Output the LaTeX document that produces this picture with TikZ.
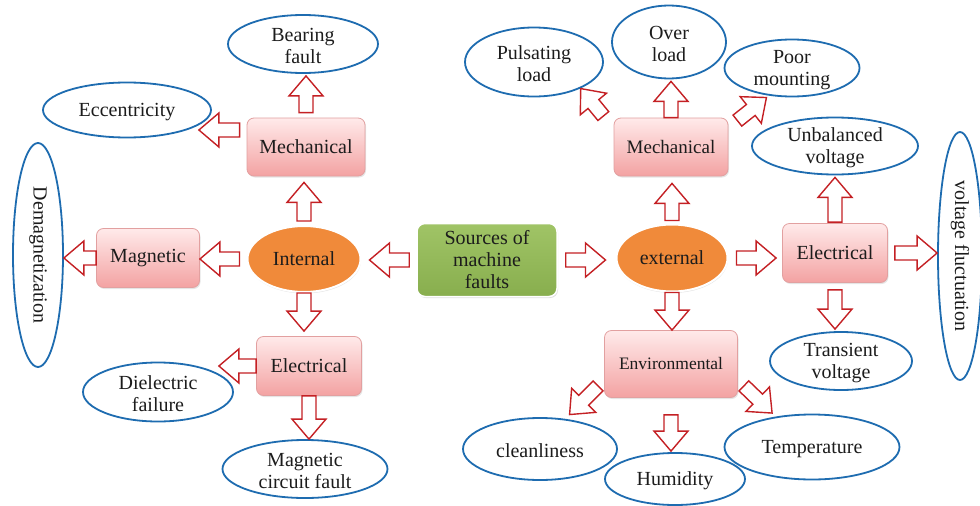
\documentclass[tikz,border=0pt]{standalone}
\usepackage{fontspec}
\setmainfont{Liberation Serif}
\usetikzlibrary{shapes.geometric,calc,shadows}

\definecolor{arrowred}{RGB}{196,32,36}
\definecolor{leafblue}{RGB}{30,108,176}
\definecolor{boxtop}{RGB}{255,234,234}
\definecolor{boxbot}{RGB}{243,162,162}
\definecolor{boxline}{RGB}{226,160,160}
\definecolor{hubfill}{RGB}{240,138,58}
\definecolor{roottop}{RGB}{160,196,102}
\definecolor{rootbot}{RGB}{136,174,78}
\definecolor{ink}{RGB}{28,28,28}

\tikzset{
  base/.style={font=\fontsize{20}{22}\selectfont, text=ink, align=center},
  catbox/.style={base, rectangle, rounded corners=7pt, top color=boxtop,
    bottom color=boxbot, draw=boxline, line width=0.8pt, inner sep=2pt,
    drop shadow={opacity=0.2, shadow xshift=1pt, shadow yshift=-1.5pt}},
  hub/.style={base, ellipse, fill=hubfill, draw=white, line width=2pt, inner sep=0pt,
    drop shadow={opacity=0.2, shadow xshift=0.5pt, shadow yshift=-1.5pt}},
  root/.style={base, rectangle, rounded corners=8pt, top color=roottop,
    bottom color=rootbot, draw=white, line width=1.5pt, inner sep=2pt,
    drop shadow={opacity=0.25, shadow xshift=1pt, shadow yshift=-1.5pt}},
  leaf/.style={ellipse, draw=leafblue, line width=1.8pt, fill=white, inner sep=0pt},
  leaftext/.style={base, yshift=-2pt},
  % hollow block arrow: shaft 14pt wide, head 34pt wide and 20pt long;
  % the two arguments are the gaps left at the start and at the target
  barrow/.style 2 args={draw=arrowred, fill=white, line width=1.4pt, line join=miter,
    to path={
    let \p1=(\tikztostart), \p2=(\tikztotarget),
        \n1={atan2(\y2-\y1,\x2-\x1)},
        \n2={veclen(\x2-\x1,\y2-\y1)-(#1)-(#2)} in
    {[shift={($(\p1)!#1pt!(\p2)$)}, rotate=\n1]
      (0pt,-7pt) -- ({(\n2-20)*1pt},-7pt) -- ({(\n2-20)*1pt},-17pt)
      -- ({\n2*1pt},0pt) -- ({(\n2-20)*1pt},17pt) -- ({(\n2-20)*1pt},7pt)
      -- (0pt,7pt) -- cycle}}}
}

% ellipse outline with its caption set on top
\newcommand\leafnode[6]{%
  \node[leaf, minimum width=#4, minimum height=#5] (#1) at (#2,#3) {};
  \node[leaftext] (#1-t) at (#1) {#6};}

\begin{document}
\begin{tikzpicture}[x=1pt,y=-1pt]
\useasboundingbox (0,0) rectangle (980,506);
\fill[white] (0,0) rectangle (980,506);

% root and the two branches
\node[root, minimum width=140, minimum height=73] (src) at (487,260) {Sources of\\machine\\faults};
\node[hub, minimum width=113, minimum height=66] (intl) at (304,259) {Internal};
\node[hub, minimum width=111, minimum height=67] (ext) at (672,258) {external};

% categories
\node[catbox, minimum width=118, minimum height=58] (imech) at (306,147) {Mechanical};
\node[catbox, minimum width=103, minimum height=59] (imag) at (148,258) {Magnetic};
\node[catbox, minimum width=105, minimum height=59] (ielec) at (309,366) {Electrical};
\node[catbox, minimum width=114, minimum height=58, font=\fontsize{19}{21}\selectfont] (xmech) at (671,147) {Mechanical};
\node[catbox, minimum width=105, minimum height=59] (xelec) at (835,253) {Electrical};
\node[catbox, minimum width=133, minimum height=67, font=\fontsize{17.5}{20}\selectfont] (env) at (671,364) {Environmental};

% fault types
\leafnode{bear}{303}{44}{150}{58}{Bearing\\fault}
\leafnode{ecc}{127}{110}{168}{55}{Eccentricity}
\leafnode{diel}{158}{392}{150}{59}{Dielectric\\failure}
\leafnode{mcf}{305}{469}{165}{58}{Magnetic\\circuit fault}
\leafnode{puls}{534}{62}{138}{69}{Pulsating\\load}
\leafnode{over}{669}{42}{114}{73}{Over\\load}
\leafnode{poor}{792}{68}{135}{57}{Poor\\mounting}
\leafnode{unb}{835}{146}{166}{57}{Unbalanced\\voltage}
\leafnode{trans}{841}{361}{142}{58}{Transient\\voltage}
\leafnode{clean}{540}{449}{154}{62}{cleanliness}
\leafnode{hum}{675}{479}{140}{52}{Humidity}
\leafnode{temp}{812}{447}{175}{65}{Temperature}
\node[leaf, minimum width=50, minimum height=224] (demag) at (38,255) {};
\node[base, rotate=-90] (demag-t) at (demag) {Demagnetization};
\node[leaf, minimum width=44, minimum height=248] (vfl) at (960,256) {};
\node[base, rotate=-90] (vfl-t) at (vfl) {voltage fluctuation};

% block arrows, internal side
\path[barrow={7}{8}] (src.west) to (src.west -| intl.east);
\path[barrow={4}{6}] (intl.north) to (intl.north |- imech.south);
\path[barrow={5}{2}] (imech.north) to (imech.north |- bear.south);
\path[barrow={7}{-13}] ([yshift=17pt]imech.west) to ([yshift=17pt]imech.west -| ecc.east);
\path[barrow={7}{0}] (intl.west) to (intl.west -| imag.east);
\path[barrow={0}{0}] (imag.west) to (imag.west -| demag.east);
\path[barrow={0}{5}] (intl.south) to (intl.south |- ielec.north);
\path[barrow={0}{-15}] (ielec.west) to (ielec.west -| diel.east);
\path[barrow={0}{0}] (ielec.south) to (ielec.south |- mcf.north);

% block arrows, external side
\path[barrow={8}{10}] (src.east) to (src.east -| ext.west);
\path[barrow={3}{7}] (ext.north) to (ext.north |- xmech.south);
\path[barrow={0}{2}] (xmech.north) to (xmech.north |- over.south);
\path[barrow={2}{2}] ([xshift=-9pt]xmech.north west) to ([xshift=-4pt]puls.south east);
\path[barrow={0}{3}] ([xshift=9pt,yshift=-3pt]xmech.north east) to (poor.230);
\path[barrow={8}{6}] (ext.east) to (ext.east -| xelec.west);
\path[barrow={1}{2}] (xelec.north) to (xelec.north |- unb.south);
\path[barrow={7}{0}] (xelec.east) to (xelec.east -| vfl.west);
\path[barrow={7}{2}] (xelec.south) to (xelec.south |- trans.north);
\path[barrow={0}{0}] (ext.south) to (ext.south |- env.north);
\path[barrow={17}{1}] (env.south) to (env.south |- hum.north);
\path[barrow={0}{6}] ([xshift=-6pt,yshift=12pt]env.south west) to (clean.50);
\path[barrow={0}{5}] ([xshift=6pt,yshift=12pt]env.south east) to (temp.140);
\end{tikzpicture}
\end{document}
